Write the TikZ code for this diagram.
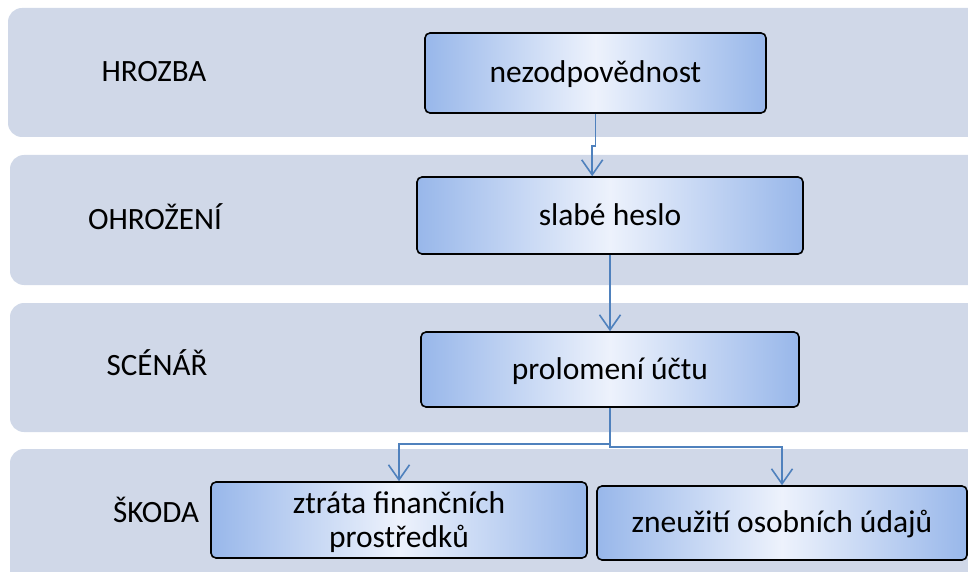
\documentclass[tikz,border=0pt]{standalone}
\usepackage{fontspec}
\setmainfont{Carlito}
\usetikzlibrary{arrows.meta,calc}

\definecolor{lanefill}{RGB}{208,216,232}
\definecolor{boxedge}{RGB}{152,183,234}
\definecolor{boxmid}{RGB}{237,242,252}
\definecolor{linkblue}{RGB}{79,129,189}

\tikzset{
  lane/.style={fill=lanefill, draw=none, rounded corners=14pt},
  lanelabel/.style={anchor=base, font=\fontsize{31}{34}\selectfont, inner sep=0pt},
  stepbox/.style={draw=black, line width=1.6pt, rounded corners=5pt,
    left color=boxedge, right color=boxedge, middle color=boxmid,
    inner sep=0pt, font=\fontsize{31.5}{34}\selectfont,
    text height=19pt, text depth=0pt, align=center},
  link/.style={draw=linkblue, line width=1.8pt,
    -{Straight Barb[length=15pt,width=21pt,line width=1.6pt]}}
}

\begin{document}
\begin{tikzpicture}[x=1pt,y=-1pt]
  \useasboundingbox (0,0) rectangle (968,572);
  \clip (0,0) rectangle (968,572);

  % swim lanes
  \fill[lane] (8,8) rectangle (1000,137);
  \fill[lane] (10,155) rectangle (1000,285);
  \fill[lane] (10,303) rectangle (1000,432);
  \fill[lane] (10,449) rectangle (1000,610);

  % lane titles
  \node[lanelabel] (lHrozba)  at (154,82)  {HROZBA};
  \node[lanelabel] (lOhrozeni) at (155,229) {OHROŽENÍ};
  \node[lanelabel] (lScenar)  at (157,375) {SCÉNÁŘ};
  \node[lanelabel] (lSkoda)   at (156,522) {ŠKODA};

  % process boxes
  \node[stepbox, minimum width=341pt, minimum height=80pt] (nez) at (595.5,73) {nezodpovědnost};
  \node[stepbox, minimum width=386pt, minimum height=77pt] (slab) at (610,215.5) {slabé heslo};
  \node[stepbox, minimum width=378pt, minimum height=75pt] (prol) at (610,369.5) {prolomení účtu};
  \node[stepbox, minimum width=376pt, minimum height=76pt, text height=54pt, text depth=0pt] (ztr) at (399,520) {ztráta finančních\\prostředků};
  \node[stepbox, minimum width=370pt, minimum height=74pt] (zne) at (782,523) {zneužití osobních údajů};

  % connectors
  \coordinate (slabIn) at ($(slab.north west)+(176,0)$);
  \draw[link] (nez.south) -- ++(0,32) -| (slabIn);
  \draw[link] (slab.south) -- (prol.north);
  \draw[link] (prol.south) -- ++(0,36) -| (ztr.north);
  \draw[link] (prol.south) -- ++(0,39) -| (zne.north);
\end{tikzpicture}
\end{document}
